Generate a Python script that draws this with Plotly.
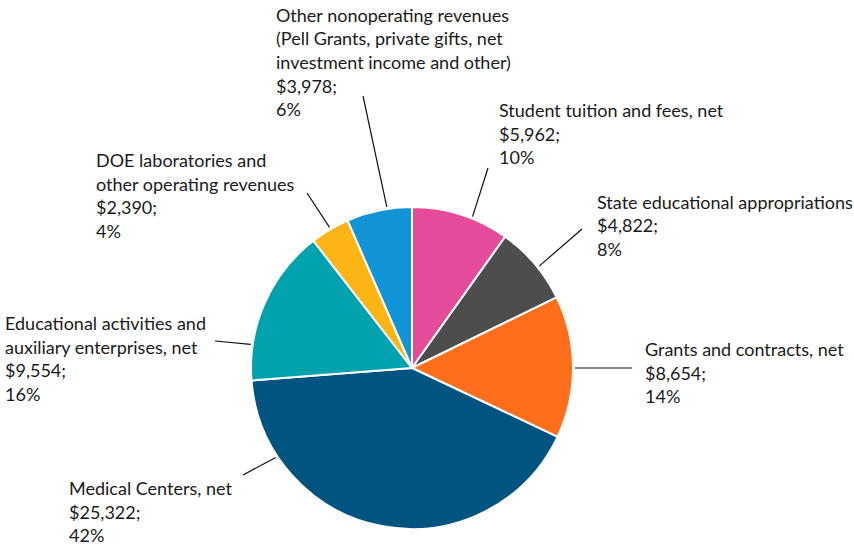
import math
import plotly.graph_objects as go

# Revenue categories, in clockwise order starting at 12 o'clock
categories = [
    "Student tuition and fees, net",
    "State educational appropriations",
    "Grants and contracts, net",
    "Medical Centers, net",
    "Educational activities and auxiliary enterprises, net",
    "DOE laboratories and other operating revenues",
    "Other nonoperating revenues (Pell Grants, private gifts, net investment income and other)",
]
values = [5962, 4822, 8654, 25322, 9554, 2390, 3978]
pct_labels = ["10%", "8%", "14%", "42%", "16%", "4%", "6%"]
name_lines = [
    ["Student tuition and fees, net"],
    ["State educational appropriations"],
    ["Grants and contracts, net"],
    ["Medical Centers, net"],
    ["Educational activities and", "auxiliary enterprises, net"],
    ["DOE laboratories and", "other operating revenues"],
    ["Other nonoperating revenues", "(Pell Grants, private gifts, net",
     "investment income and other)"],
]
colors = ["#E44C9A", "#4D4D4D", "#FF6E1B", "#00547F", "#00A3AD", "#FDB515", "#1295D8"]

W, H = 854, 545
CX, CY, R = 412, 368, 161

# Label placement (pixels): text left edge, first-line centre,
# rim angle of the leader line (deg clockwise from top) and its outer end
label_layout = [
    dict(x=497, y=110, ang=21.8, end=(488, 168)),
    dict(x=595, y=202, ang=51.3, end=(582, 229)),
    dict(x=643, y=349, ang=90.0, end=(632, 368)),
    dict(x=67, y=488, ang=236.7, end=(243, 475)),
    dict(x=3, y=323, ang=278.3, end=(215, 341)),
    dict(x=94, y=160, ang=329.6, end=(307, 193)),
    dict(x=274, y=15, ang=351.1, end=(363, 96)),
]
LINE_H = 23.5
FONT = dict(family="Lato, 'Noto Sans', sans-serif", size=18, color="#1a1a1a")


def px(x):
    return x / W


def py(y):
    return 1 - y / H


fig = go.Figure(go.Pie(
    labels=categories,
    values=values,
    sort=False,
    direction="clockwise",
    rotation=0,
    marker=dict(colors=colors, line=dict(color="white", width=2)),
    textinfo="none",
    hoverinfo="label+value",
    showlegend=False,
    domain=dict(x=[px(CX - R), px(CX + R)], y=[py(CY + R), py(CY - R)]),
))

annotations = []
shapes = []
for i, lay in enumerate(label_layout):
    lines = name_lines[i] + ["${:,};".format(values[i]), pct_labels[i]]
    for k, txt in enumerate(lines):
        annotations.append(dict(
            x=px(lay["x"]), y=py(lay["y"] + k * LINE_H),
            xref="paper", yref="paper", xanchor="left", yanchor="middle",
            text=txt, showarrow=False, font=FONT,
        ))
    a = math.radians(lay["ang"])
    x0 = CX + (R + 2) * math.sin(a)
    y0 = CY - (R + 2) * math.cos(a)
    x1, y1 = lay["end"]
    shapes.append(dict(
        type="line", xref="paper", yref="paper",
        x0=px(x0), y0=py(y0), x1=px(x1), y1=py(y1),
        line=dict(color="#111111", width=1.2),
    ))

fig.update_layout(
    width=W, height=H,
    margin=dict(l=0, r=0, t=0, b=0),
    paper_bgcolor="white",
    annotations=annotations,
    shapes=shapes,
)

fig.write_html("out.html")
